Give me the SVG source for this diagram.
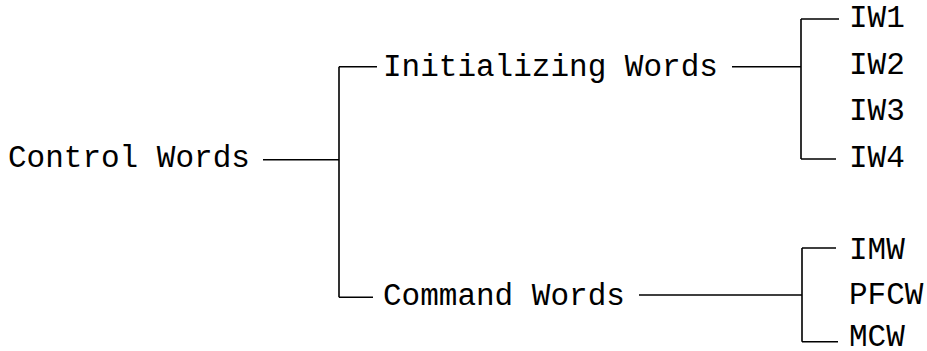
<svg xmlns="http://www.w3.org/2000/svg" width="927" height="351" viewBox="0 0 927 351">
<style>
text{font-family:"Liberation Mono","DejaVu Sans Mono",monospace;font-size:31px;fill:#000}
.c{stroke:#000;stroke-width:1.6;fill:none}
</style>
<rect width="927" height="351" fill="#fff"/>
<g id="connectors">
<path class="c" d="M263 159.7H339M339 66.7V297.3M339 66.7H377M339 297.3H373"/>
<path class="c" d="M732 66.7H801M801 19V159M801 19H839M801 159H836"/>
<path class="c" d="M639 295H802M802 248V341.7M802 248H836M802 341.7H838"/>
</g>
<g id="control"><text x="8" y="167">Control Words</text></g>
<g id="init"><text x="383" y="76">Initializing Words</text></g>
<g id="command"><text x="383" y="305">Command Words</text></g>
<g id="iw1"><text x="849" y="27">IW1</text></g>
<g id="iw2"><text x="849" y="73.5">IW2</text></g>
<g id="iw3"><text x="849" y="120">IW3</text></g>
<g id="iw4"><text x="849" y="166.5">IW4</text></g>
<g id="imw"><text x="849" y="258.5">IMW</text></g>
<g id="pfcw"><text x="849" y="304">PFCW</text></g>
<g id="mcw"><text x="849" y="346">MCW</text></g>
</svg>
